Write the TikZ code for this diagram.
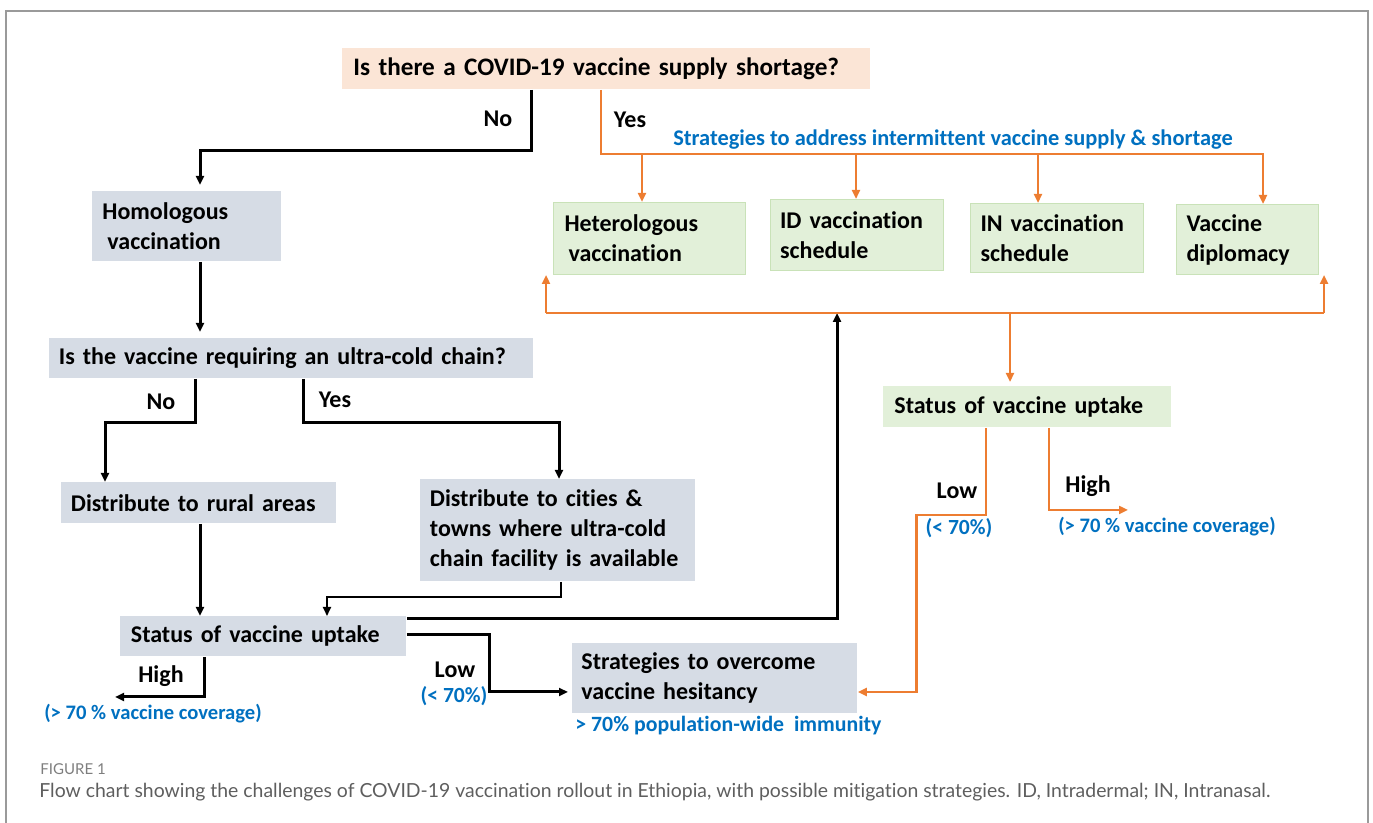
\documentclass[tikz,border=0pt]{standalone}
\usepackage{fontspec}
\setmainfont{Carlito}[Ligatures=NoCommon]
\newfontfamily\capfont{Lato}[Ligatures=NoCommon]
\usetikzlibrary{arrows.meta, calc}
\definecolor{boxgray}{HTML}{D6DCE5}
\definecolor{boxgreen}{HTML}{E2F0D9}
\definecolor{greenline}{HTML}{C9E2B8}
\definecolor{peach}{HTML}{FBE5D6}
\definecolor{orng}{HTML}{ED7D31}
\definecolor{infoblue}{HTML}{0070C0}
\definecolor{capgray}{HTML}{5E5E5E}
\definecolor{framegray}{HTML}{9A9A9A}
\tikzset{
  box/.style={anchor=north west, fill=boxgray, align=left, inner ysep=0pt,
    font=\fontsize{12}{15}\selectfont\bfseries},
  gbox/.style={box, fill=boxgreen, draw=greenline, line width=0.5pt},
  lbl/.style={inner sep=0pt, font=\fontsize{12}{14}\selectfont\bfseries},
  note/.style={inner sep=0pt, text=infoblue, font=\fontsize{10.3}{12}\selectfont\bfseries},
  flow/.style={draw, line width=1.5pt, -{Triangle[length=4.5pt,width=4pt]}},
  oflow/.style={flow, draw=orng, line width=1.3pt},
  oline/.style={draw=orng, line width=1.3pt},
}
\begin{document}
\begin{tikzpicture}[x=0.5pt, y=-0.5pt]
  \useasboundingbox (0,0) rectangle (1373,823);
  \draw[framegray, line width=0.8pt] (6,823) -- (6,11) -- (1368,11) -- (1368,823);

  % boxes, placed by their top left corner
  \node[box, fill=peach, text width=253pt, minimum height=20.5pt, inner xsep=5.5pt,
    font=\fontsize{12.6}{15}\selectfont\bfseries] (Q) at (342,48)
    {Is there a COVID-19 vaccine supply shortage?};
  \node[box, text width=84.5pt, minimum height=35pt, inner xsep=5pt] (Homo) at (92,191)
    {Homologous\\\hspace*{2.5pt}vaccination};
  \node[box, text width=232.5pt, minimum height=20pt, inner xsep=4.75pt] (QC) at (49,338)
    {Is the vaccine requiring an ultra-cold chain?};
  \node[box, text width=128pt, minimum height=20.5pt, inner xsep=4.75pt] (Rur) at (61,482)
    {Distribute to rural areas};
  \node[box, text width=128pt, minimum height=51pt, inner xsep=4.75pt] (Cit) at (420,479)
    {Distribute to cities \&\\towns where ultra-cold\\chain facility is available};
  \node[box, text width=132.5pt, minimum height=20pt, inner xsep=5.25pt] (StatL) at (120,616)
    {Status of vaccine uptake};
  \node[box, text width=133.5pt, minimum height=35pt, inner xsep=4.5pt] (Hes) at (572,643)
    {Strategies to overcome\\vaccine hesitancy};

  \node[gbox, text width=85pt, minimum height=36pt, inner xsep=5.5pt] (Het) at (553,202)
    {Heterologous\\\hspace*{2pt}vaccination};
  \node[gbox, text width=77pt, minimum height=35.5pt, inner xsep=4.75pt] (ID) at (770,199)
    {ID vaccination\\schedule};
  \node[gbox, text width=76.5pt, minimum height=34.5pt, inner xsep=5pt] (IN) at (970,203)
    {IN vaccination\\schedule};
  \node[gbox, text width=61pt, minimum height=35pt, inner xsep=5pt] (Dipl) at (1176,204)
    {Vaccine\\diplomacy};
  \node[box, fill=boxgreen, text width=133pt, minimum height=20.5pt, inner xsep=5.5pt] (StatR) at (883,386)
    {Status of vaccine uptake};

  % bend points
  \path (531,151) coordinate (q1) (200,151) coordinate (q2)
        (601,154) coordinate (y1) (1263,154) coordinate (y2)
        (546,313) coordinate (bl) (1324,313) coordinate (br) (1010,313) coordinate (bm)
        (195,423) coordinate (n1) (105,423) coordinate (n2)
        (303,423) coordinate (s1) (559,423) coordinate (s2)
        (561,597) coordinate (c1) (327,597) coordinate (c2)
        (837,619) coordinate (up)
        (204,697) coordinate (lh1) (115,697) coordinate (lh2)
        (489,635) coordinate (ll1) (489,692) coordinate (ll2)
        (986,515) coordinate (r1) (916.5,515) coordinate (r2) (916.5,692) coordinate (r3)
        (1049,510) coordinate (h1) (1128,510) coordinate (h2);

  % left column
  \draw[flow, shorten >=3pt] (Q.south -| q1) -- (q1) -- (q2) -- (q2 |- Homo.north);
  \draw[flow, shorten >=3pt] (Homo.south -| q2) -- (q2 |- QC.north);
  \draw[flow] (QC.south -| n1) -- (n1) -- (n2) -- (n2 |- Rur.north);
  \draw[flow] (QC.south -| s1) -- (s1) -- (s2) -- (s2 |- Cit.north);
  \draw[flow] (Rur.south -| q2) -- (q2 |- StatL.north);
  \draw[flow, line width=0.9pt] (Cit.south -| c1) -- (c1) -- (c2) -- (c2 |- StatL.north);
  \draw[flow] (StatL.east |- up) -- (up) -- (up |- bl);
  \draw[flow] (StatL.south -| lh1) -- (lh1) -- (lh2);
  \draw[flow, shorten >=2pt] (StatL.east |- ll1) -- (ll1) -- (ll2) -- (Hes.west |- ll2);

  % supply shortage strategies
  \draw[oflow] (Q.south -| y1) -- (y1) -- (y2) -- (y2 |- Dipl.north);
  \foreach \n/\x in {Het/642, ID/856, IN/1038}
    \draw[oflow] (\x,154) coordinate (d) -- (d |- \n.north);
  \draw[oline] (bl) -- (br);
  \draw[oflow] (bl) -- (bl |- Het.south);
  \draw[oflow] (br) -- (br |- Dipl.south);
  \draw[oflow, shorten >=2pt] (bm) -- (bm |- StatR.north);
  \draw[oflow] (StatR.south -| r1) -- (r1) -- (r2) -- (r3) -- (Hes.east |- r3);
  \draw[oflow] (StatR.south -| h1) -- (h1) -- (h2);

  % branch labels
  \node[lbl] (noA) at (498,119) {No};
  \node[lbl] (yesA) at (630,120) {Yes};
  \node[note, font=\fontsize{11.2}{13}\selectfont\bfseries] (strat) at (953,140)
    {Strategies to address intermittent vaccine supply \& shortage};
  \node[lbl] (noB) at (161,402) {No};
  \node[lbl] (yesB) at (335,400) {Yes};
  \node[lbl] (lowR) at (957,491) {Low};
  \node[note, font=\fontsize{10.8}{12}\selectfont\bfseries] (lowRp) at (959,528) {(< 70\%)};
  \node[lbl] (highR) at (1088,486) {High};
  \node[note] (highRp) at (1167,527) {(> 70 \% vaccine coverage)};
  \node[lbl] (highL) at (161,676) {High};
  \node[note] (highLp) at (153,714) {(> 70 \% vaccine coverage)};
  \node[lbl] (lowL) at (455,670) {Low};
  \node[note, font=\fontsize{10.8}{12}\selectfont\bfseries] (lowLp) at (454,696) {(< 70\%)};
  \node[note, anchor=west, font=\fontsize{10.9}{12}\selectfont\bfseries] (immun) at (575,726)
    {> 70\% population-wide\ \ immunity};

  % caption
  \node[anchor=west, inner sep=0pt, text=capgray!80, font=\capfont\fontsize{7.5}{9}\selectfont] (fig) at (40,769) {FIGURE 1};
  \node[anchor=west, inner sep=0pt, text=capgray, font=\capfont\fontsize{9.7}{11}\selectfont] (cap) at (39,792)
    {Flow chart showing the challenges of COVID-19 vaccination rollout in Ethiopia, with possible mitigation strategies. ID, Intradermal; IN, Intranasal.};
\end{tikzpicture}
\end{document}
